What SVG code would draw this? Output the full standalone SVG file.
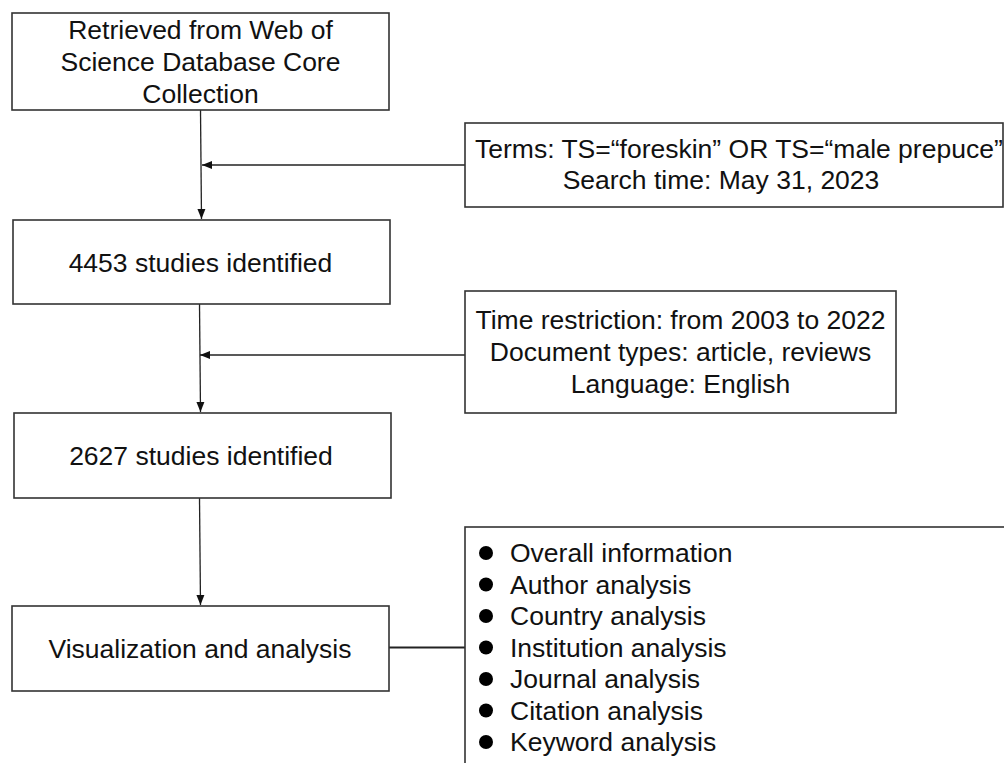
<svg xmlns="http://www.w3.org/2000/svg" width="1004" height="763" viewBox="0 0 1004 763">
<style>
.box{fill:#fff;stroke:#333;stroke-width:1.6}
.t{font-family:"Liberation Sans",Arial,sans-serif;font-size:26.5px;fill:#111}
.c{text-anchor:middle}
.ln{stroke:#222;stroke-width:1.3;fill:none}
.bul{fill:#000}
</style>
<defs>
<marker id="ah" markerUnits="userSpaceOnUse" markerWidth="10" markerHeight="10" viewBox="0 0 10 10" refX="10" refY="5" orient="auto">
<path d="M0,1 L10,5 L0,9 Z" fill="#111"/>
</marker>
</defs>
<rect width="1004" height="763" fill="#fff"/>
<g id="connectors">
<line class="ln" x1="200.5" y1="110" x2="201.5" y2="219" marker-end="url(#ah)"/>
<line class="ln" x1="465" y1="165" x2="202" y2="165" marker-end="url(#ah)"/>
<line class="ln" x1="199.5" y1="304" x2="200.5" y2="412" marker-end="url(#ah)"/>
<line class="ln" x1="465" y1="355" x2="200" y2="355" marker-end="url(#ah)"/>
<line class="ln" x1="199.5" y1="498" x2="200.5" y2="605" marker-end="url(#ah)"/>
<line class="ln" x1="389" y1="647.5" x2="465" y2="647.5" style="stroke-width:2"/>
</g>
<g id="n1">
<rect class="box" x="12" y="13" width="377" height="97"/>
<text class="t c" x="200.5" y="39">Retrieved from Web of</text>
<text class="t c" x="200.5" y="71">Science Database Core</text>
<text class="t c" x="200.5" y="103">Collection</text>
</g>
<g id="n2">
<rect class="box" x="13" y="220" width="377" height="84"/>
<text class="t c" x="200.5" y="272">4453 studies identified</text>
</g>
<g id="n3">
<rect class="box" x="14" y="413" width="377" height="85"/>
<text class="t c" x="201" y="465">2627 studies identified</text>
</g>
<g id="n4">
<rect class="box" x="12" y="606" width="377" height="85"/>
<text class="t c" x="200" y="658">Visualization and analysis</text>
</g>
<g id="terms">
<rect class="box" x="465" y="123" width="538" height="84"/>
<text class="t" x="475" y="158">Terms: TS=“foreskin” OR TS=“male prepuce”</text>
<text class="t c" x="721" y="189">Search time: May 31, 2023</text>
</g>
<g id="filters">
<rect class="box" x="465" y="291" width="431" height="122"/>
<text class="t c" x="680.5" y="329">Time restriction: from 2003 to 2022</text>
<text class="t c" x="680.5" y="361">Document types: article, reviews</text>
<text class="t c" x="680.5" y="393">Language: English</text>
</g>
<g id="list">
<rect class="box" x="465" y="527" width="560" height="260"/>
<circle class="bul" cx="486" cy="553" r="7"/>
<circle class="bul" cx="486" cy="584.5" r="7"/>
<circle class="bul" cx="486" cy="616" r="7"/>
<circle class="bul" cx="486" cy="647.5" r="7"/>
<circle class="bul" cx="486" cy="679" r="7"/>
<circle class="bul" cx="486" cy="710.5" r="7"/>
<circle class="bul" cx="486" cy="742" r="7"/>
<text class="t" x="510" y="562">Overall information</text>
<text class="t" x="510" y="593.5">Author analysis</text>
<text class="t" x="510" y="625">Country analysis</text>
<text class="t" x="510" y="656.5">Institution analysis</text>
<text class="t" x="510" y="688">Journal analysis</text>
<text class="t" x="510" y="719.5">Citation analysis</text>
<text class="t" x="510" y="751">Keyword analysis</text>
</g>
</svg>
